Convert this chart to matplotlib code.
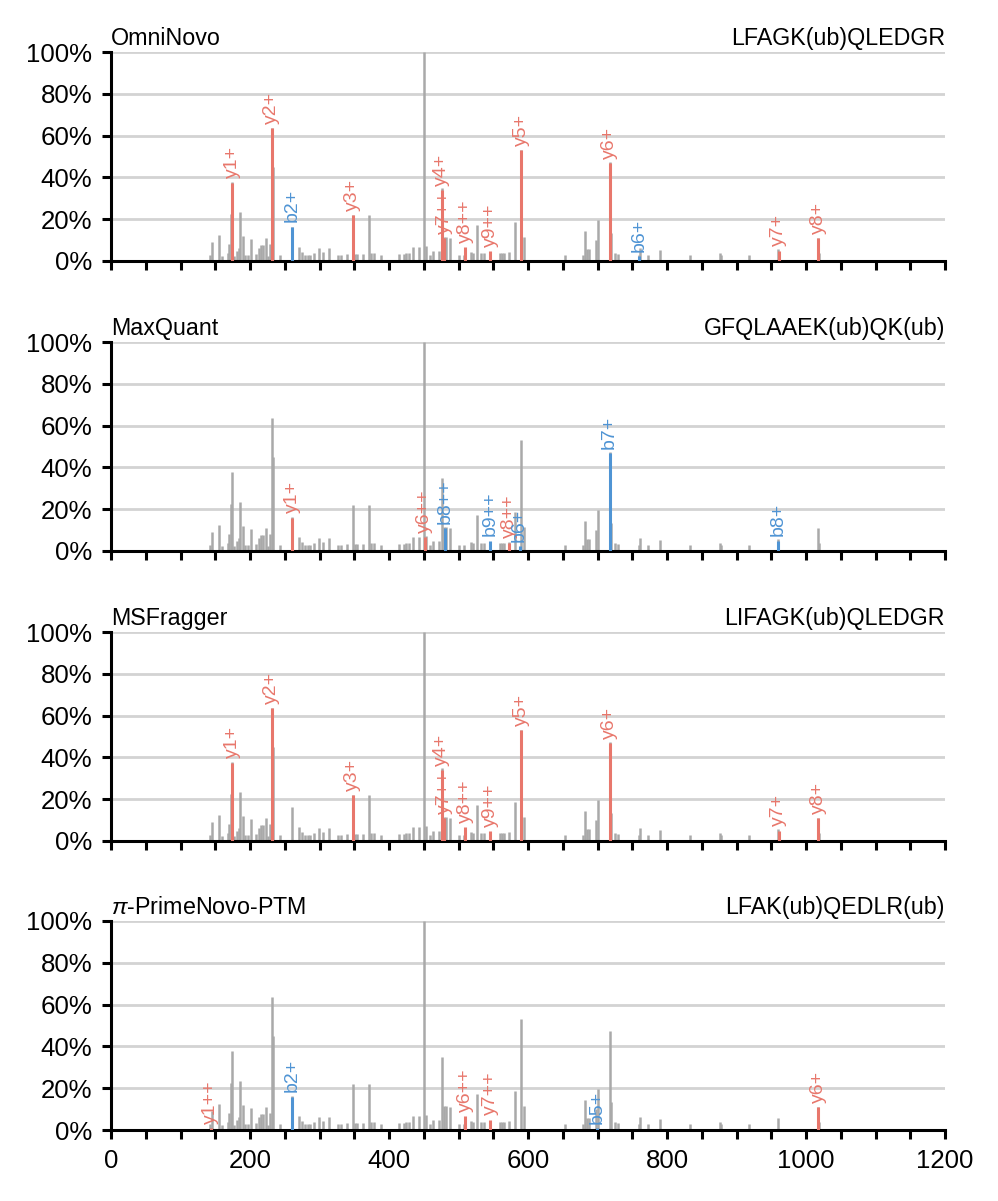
import matplotlib
matplotlib.use("Agg")
import matplotlib.pyplot as plt
from matplotlib.ticker import PercentFormatter, MultipleLocator

plt.rcParams['font.family'] = ['Liberation Sans', 'DejaVu Sans']
plt.rcParams['mathtext.fontset'] = 'custom'
plt.rcParams['mathtext.it'] = 'Liberation Sans:italic'

# observed spectrum (m/z, relative intensity %), shared by all panels
mz = [143, 146, 156, 159, 168, 169.5, 172, 174.2, 177.6, 181.5, 184, 186.3,
      189.6, 192.6, 197, 200.8, 209, 212.8, 216, 218.6, 222.5, 226, 228.3,
      231.6, 233.6, 242.7, 260.6, 270.3, 274.6, 279, 283.8, 287, 292, 299.7,
      304.5, 314, 327, 331.5, 339, 347.5, 350.4, 353.7, 363, 371, 374.4, 378,
      389, 415, 422, 425, 428.5, 434.4, 443, 450.3, 452.7, 458.5, 463.8, 472,
      476.8, 479.3, 481.6, 487.4, 501, 508, 518, 521, 526, 532, 537, 545, 559,
      563, 566, 573.3, 582, 590.2, 593.6, 653, 679.6, 682, 685.5, 688.4, 697.6,
      700, 717.3, 719.7, 725.5, 728.9, 759.3, 761.7, 772.3, 789.7, 833, 876.4,
      878.4, 918.6, 959.5, 1017.4, 1019]
intensity = [3, 9.2, 12.3, 2.4, 4, 8.3, 22.6, 37.7, 2.4, 5, 6.4, 23.4,
             12, 3, 3, 10.7, 3.5, 6, 7.5, 7.5, 10.8, 2.4, 8.3,
             63.7, 45, 3, 16.5, 6.7, 4.5, 3, 3, 3, 4, 6,
             4.5, 6.4, 3, 3, 3.5, 22, 3.5, 3.5, 3.5, 21.8, 3.8, 3.8,
             3, 3.5, 3.5, 4, 4, 6.7, 6.7, 100, 7, 3, 4.8, 4.8,
             34.7, 11.5, 11.5, 11, 3, 3, 4.5, 4, 17, 3.8, 3.8, 3.5, 3.8,
             3.8, 3.8, 4.5, 18.6, 53, 11.5, 3, 3, 14.3, 5.6, 5.6, 10,
             19.6, 47.3, 13.5, 4, 3.5, 3, 6, 2.7, 5.3, 3, 4,
             3, 3, 5.6, 11, 4]

methods = ['OmniNovo', 'MaxQuant', 'MSFragger', r'$\pi$-PrimeNovo-PTM']
peptides = ['LFAGK(ub)QLEDGR', 'GFQLAAEK(ub)QK(ub)', 'LIFAGK(ub)QLEDGR',
            'LFAK(ub)QEDLR(ub)']

# matched fragment ions per panel: label, m/z, intensity, ion type
omni_ions = [('y1+', 174.2, 37.5, 'y'), ('y2+', 231.6, 63.5, 'y'),
             ('b2+', 260.6, 16.5, 'b'), ('y3+', 347.5, 22, 'y'),
             ('y4+', 475.8, 34, 'y'), ('y7++', 479.3, 11, 'y'),
             ('y8++', 509.6, 6.5, 'y'), ('y9++', 545.3, 4.8, 'y'),
             ('y5+', 590.2, 53, 'y'), ('y6+', 717.3, 47, 'y'),
             ('b6+', 759.3, 2.4, 'b'), ('y7+', 960.5, 5, 'y'),
             ('y8+', 1017.4, 11, 'y')]
maxquant_ions = [('y1+', 260.6, 16, 'y'), ('y6++', 451.7, 6.7, 'y'),
                 ('b8++', 480.7, 11, 'b'), ('b9++', 545.3, 5, 'b'),
                 ('y8++', 573.3, 4, 'y'), ('b6+', 588, 2.5, 'b'),
                 ('b7+', 717.3, 47, 'b'), ('b8+', 959.5, 5, 'b')]
msfragger_ions = [('y1+', 174.2, 37.5, 'y'), ('y2+', 231.6, 63.5, 'y'),
                  ('y3+', 347.5, 22, 'y'), ('y4+', 475.8, 34, 'y'),
                  ('y7++', 479.3, 11, 'y'), ('y8++', 509.6, 6.5, 'y'),
                  ('y9++', 545.3, 4.8, 'y'), ('y5+', 590.2, 53, 'y'),
                  ('y6+', 717.3, 47, 'y'), ('y7+', 960.5, 5, 'y'),
                  ('y8+', 1017.4, 11, 'y')]
prime_ions = [('y1++', 143.8, 0.8, 'y'), ('b2+', 260.6, 16, 'b'),
              ('y6++', 509.6, 6.7, 'y'), ('y7++', 545.3, 5, 'y'),
              ('b5+', 699.9, 1, 'b'), ('y6+', 1017.4, 11, 'y')]
all_ions = [omni_ions, maxquant_ions, msfragger_ions, prime_ions]

colors = {'y': '#e8776c', 'b': '#4f94d4'}

fig = plt.figure(figsize=(4.99, 6.005), dpi=200)
W, H = 998, 1201
tops = [52, 342, 632, 921]

for i in range(4):
    top = tops[i]
    ax = fig.add_axes([111 / W, 1 - (top + 209) / H, 834 / W, 209 / H])
    ax.set_xlim(0, 1200)
    ax.set_ylim(0, 100)
    ax.grid(axis='y', color='#d3d3d3', lw=1.0)
    ax.set_axisbelow(True)
    ax.vlines(mz, 0, intensity, color='#a9a9a9', lw=0.9, zorder=2)
    for label, x, h, kind in all_ions[i]:
        c = colors[kind]
        ax.vlines(x, 0, h, color=c, lw=1.1, zorder=3)
        ax.annotate(label, xy=(x, h), xytext=(0, 1.5), textcoords='offset points',
                    rotation=90, ha='center', va='bottom', fontsize=7, color=c)
    for s in ['top', 'right']:
        ax.spines[s].set_visible(False)
    for s in ['left', 'bottom']:
        ax.spines[s].set_linewidth(1.1)
    ax.yaxis.set_major_locator(MultipleLocator(20))
    ax.yaxis.set_major_formatter(PercentFormatter(100, decimals=0))
    ax.xaxis.set_major_locator(MultipleLocator(200))
    ax.xaxis.set_minor_locator(MultipleLocator(50))
    ax.tick_params(which='both', length=3.2, width=1.1, labelsize=9.3)
    if i < 3:
        ax.tick_params(axis='x', labelbottom=False)
    ax.set_title(methods[i], loc='left', fontsize=8.4, pad=2.5)
    ax.set_title(peptides[i], loc='right', fontsize=8.4, pad=2.5)

fig.savefig('out.png', dpi=200)
